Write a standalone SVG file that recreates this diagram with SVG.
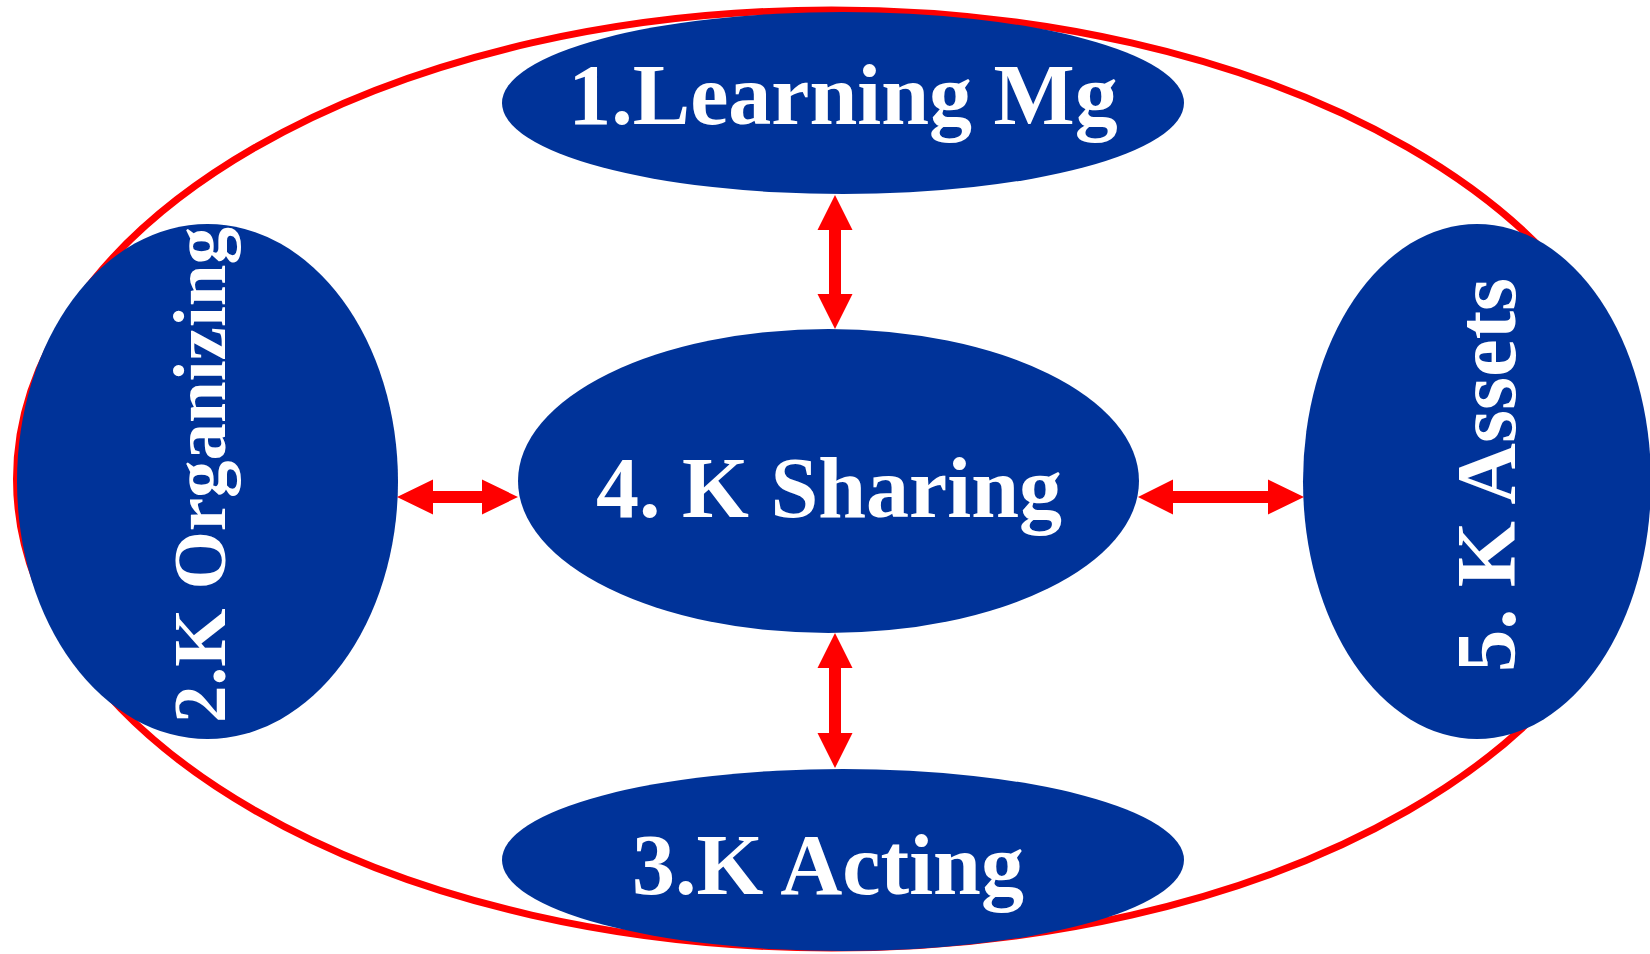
<svg xmlns="http://www.w3.org/2000/svg" width="1650" height="954" viewBox="0 0 1650 954">
  <style>
    .node { fill: #003399; }
    .lbl { fill: #ffffff; font-family: "Liberation Serif", "Times New Roman", serif; font-weight: bold; text-anchor: middle; }
    .arrow { fill: #ff0000; }
  </style>
  <rect x="0" y="0" width="1650" height="954" fill="#ffffff"/>
  <g id="outer-ring">
    <ellipse cx="831.5" cy="479" rx="815" ry="469" fill="none" stroke="#ff0000" stroke-width="7"/>
  </g>
  <g id="node-learning">
    <ellipse class="node" cx="843" cy="103" rx="341" ry="91"/>
    <text class="lbl" x="843" y="124" font-size="86">1.Learning Mg</text>
  </g>
  <g id="node-organizing">
    <ellipse class="node" cx="207.5" cy="481.5" rx="190.5" ry="257.5"/>
    <text class="lbl" transform="translate(225,475) rotate(-90)" x="0" y="0" font-size="75">2.K Organizing</text>
  </g>
  <g id="node-acting">
    <ellipse class="node" cx="843" cy="860" rx="341" ry="91"/>
    <text class="lbl" x="828" y="894" font-size="86">3.K Acting</text>
  </g>
  <g id="node-sharing">
    <ellipse class="node" cx="828.5" cy="481" rx="310.5" ry="152"/>
    <text class="lbl" x="829" y="517" font-size="86">4. K Sharing</text>
  </g>
  <g id="node-assets">
    <ellipse class="node" cx="1477" cy="481.5" rx="174" ry="257.5"/>
    <text class="lbl" transform="translate(1515,475) rotate(-90)" x="0" y="0" font-size="85">5. K Assets</text>
  </g>
  <g id="connectors">
    <polygon class="arrow" points="835,195 852.5,230 841,230 841,294 852.5,294 835,329 817.5,294 829,294 829,230 817.5,230"/>
    <polygon class="arrow" points="835,633 852.5,668 841,668 841,733 852.5,733 835,768 817.5,733 829,733 829,668 817.5,668"/>
    <polygon class="arrow" points="397,497 433,479.5 433,491 482,491 482,479.5 518,497 482,514.5 482,503 433,503 433,514.5"/>
    <polygon class="arrow" points="1138,497 1173,479.5 1173,491 1268,491 1268,479.5 1304,497 1268,514.5 1268,503 1173,503 1173,514.5"/>
  </g>
</svg>
